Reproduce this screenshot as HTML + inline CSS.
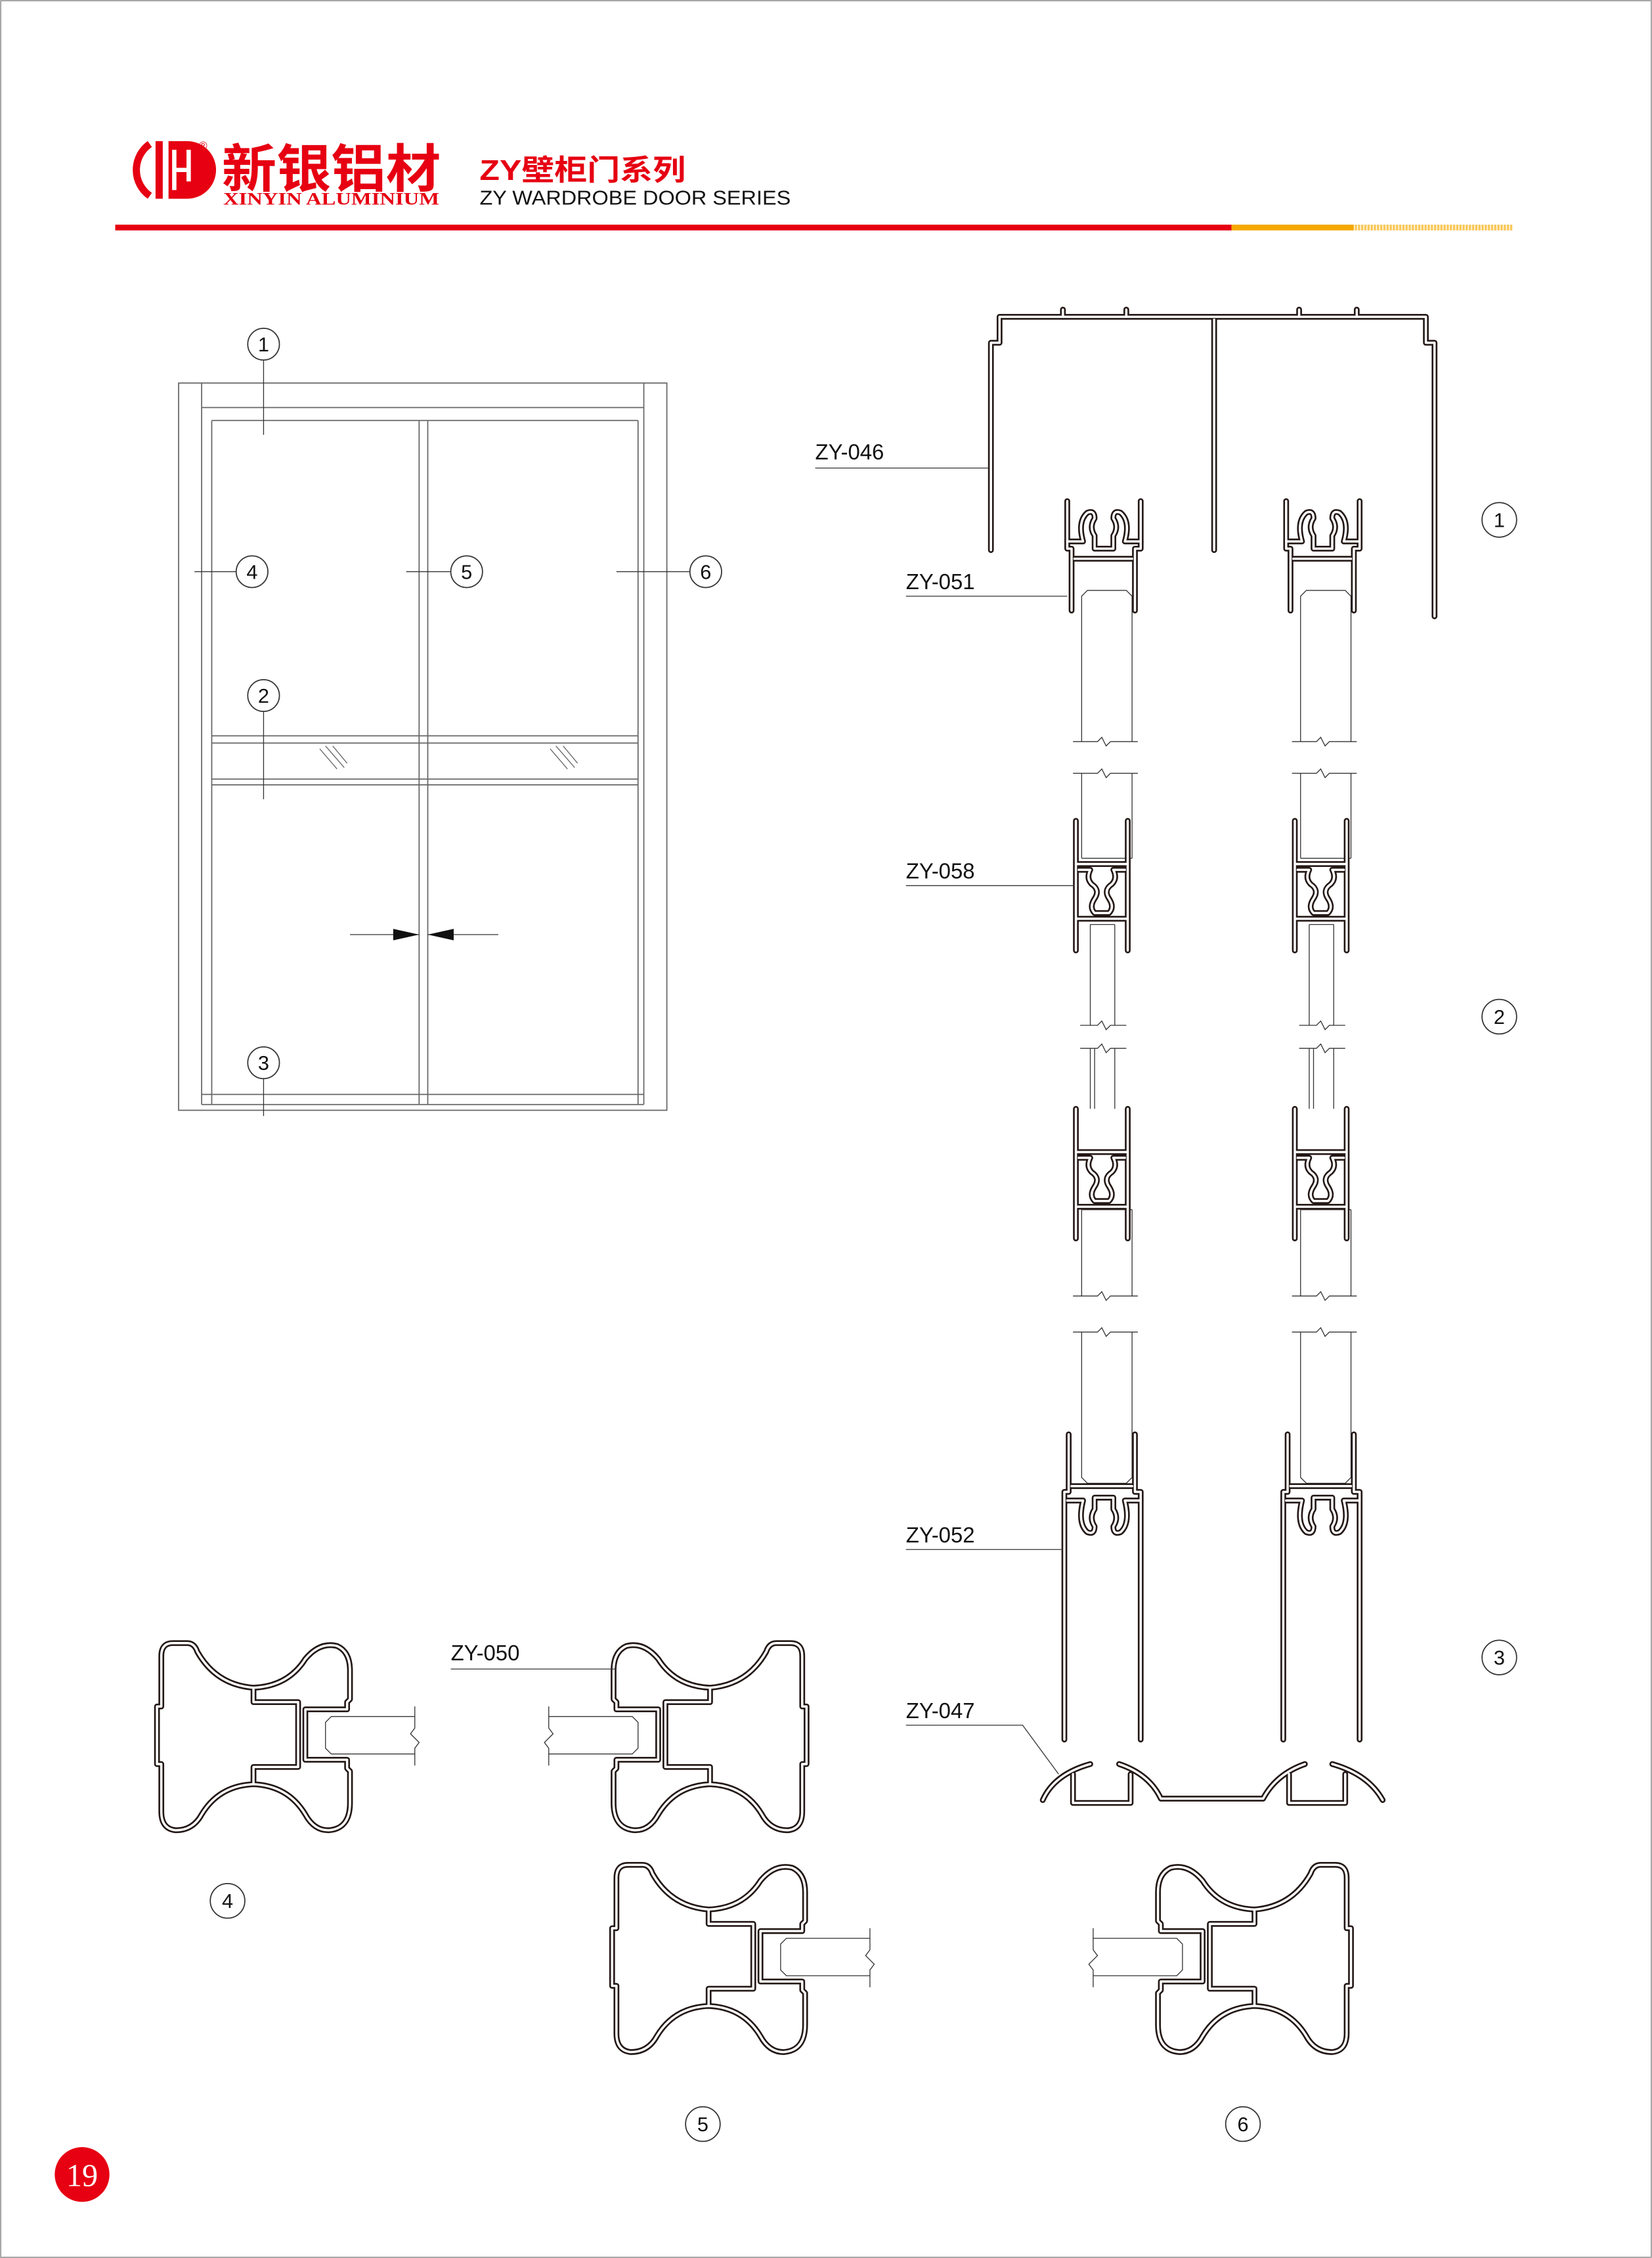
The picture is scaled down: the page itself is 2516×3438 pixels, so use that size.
<!DOCTYPE html>
<html><head><meta charset="utf-8"><style>
html,body{margin:0;padding:0;background:#fff}
svg{display:block}
text{font-family:"Liberation Sans","Noto Sans CJK SC",sans-serif}
text.serif{font-family:"Liberation Serif",serif}
</style></head><body>
<svg width="2516" height="3438" viewBox="0 0 1147 1568" preserveAspectRatio="none" xmlns="http://www.w3.org/2000/svg">
<defs>
<g id="p4">
<path d="M112,1150 Q112,1141 120,1141 L130,1141 Q135,1141 137,1147 Q150,1170 176,1172 Q200,1171 212,1152 Q222,1140 234,1143 Q243,1147 243,1160 L243,1180 L241,1182 L241,1187 L212,1187 L212,1222 L241,1222 L241,1228 L243,1230 L243,1252 Q243,1270 228,1271 Q218,1271 212,1260 Q200,1240 176,1239 Q152,1240 140,1260 Q134,1271 122,1271 Q112,1270 112,1258 L112,1225 L109,1225 L109,1185 L112,1185 Z"/>
<path d="M176,1172 L176,1182 L207,1182 L207,1227 L176,1227 L176,1239"/>
</g>
<g id="col">
<path d="M741,348 L741,381 L744,381 L744,424 M792,348 L792,381 L788,381 L788,424 M746,388 L786,388"/>
<path d="M741,376 L752,376 Q748,362 755,356 Q760,354 760,360 Q756,366 760,372 L760,381 L773,381 L773,372 Q777,366 773,360 Q773,354 778,356 Q785,362 781,376 L792,376"/>
<path d="M747,570 L747,660 M783,570 L783,660 M747,600 L783,600 M747,638 L783,638"/>
<path d="M749,604 L757,604 Q754,610 758,614 Q764,618 760,624 Q756,630 760,634 L770,634 Q774,630 770,624 Q766,618 772,614 Q776,610 773,604 L781,604"/>
<path d="M747,770 L747,860 M783,770 L783,860 M747,800 L783,800 M747,838 L783,838"/>
<path d="M749,804 L757,804 Q754,810 758,814 Q764,818 760,824 Q756,830 760,834 L770,834 Q774,830 770,824 Q766,818 772,814 Q776,810 773,804 L781,804"/>
<path d="M742,996 L742,1036 L739,1036 L739,1208 M788,996 L788,1036 L792,1036 L792,1208 M744,1032 L786,1032"/>
<path d="M741,1042 L752,1042 Q748,1058 755,1064 Q760,1066 760,1060 Q756,1054 760,1048 L760,1040 L773,1040 L773,1048 Q777,1054 773,1060 Q773,1066 778,1064 Q785,1058 781,1042 L792,1042"/>
</g>
<g id="glass" fill="none" stroke="#333" stroke-width="0.6">
<path d="M751,515 L751,414 L755,410 L782,410 L786,414 L786,515"/>
<path d="M745,515 L762,515 L765,512 L768,518 L771,515 L790,515"/>
<path d="M745,537 L762,537 L765,534 L768,540 L771,537 L790,537"/>
<path d="M751,537 L751,596 M786,537 L786,596 M751,596 L786,596"/>
<path d="M757,642 L757,712 M774,642 L774,712 M757,642 L774,642"/>
<path d="M750,712 L762,712 L765,709 L768,715 L771,712 L782,712"/>
<path d="M750,728 L762,728 L765,725 L768,731 L771,728 L782,728"/>
<path d="M757,728 L757,770 M774,728 L774,770 M760,728 L760,770"/>
<path d="M751,840 L786,840 M751,840 L751,900 M786,840 L786,900"/>
<path d="M745,900 L762,900 L765,897 L768,903 L771,900 L790,900"/>
<path d="M745,925 L762,925 L765,922 L768,928 L771,925 L790,925"/>
<path d="M751,925 L751,1026 L755,1030 L782,1030 L786,1026 L786,925"/>
</g>
<g id="g4" fill="none" stroke="#333" stroke-width="0.6">
<path d="M288,1185 L288,1192 L230,1192 L226,1196 L226,1214 L230,1218 L288,1218 L288,1226"/>
<path d="M288,1192 L288,1200 L285,1204 L291,1210 L288,1214 L288,1218"/>
</g>
<g id="trk">
<path d="M688,382 L688,238 L694,238 L694,220 L990,220 L990,238 L996,238 L996,428"/>
<path d="M843,222 L843,382"/>
<path d="M738,220 L738,215 M782,220 L782,215 M902,220 L902,215 M942,220 L942,215"/>
<path d="M724,1250 Q732,1232 757,1225 M745,1232 L745,1252 L785,1252 L785,1232 M777,1225 Q798,1232 806,1249 L877,1249 Q886,1232 906,1225 M895,1232 L895,1252 L934,1252 L934,1232 M925,1225 Q950,1232 960,1250"/>
</g>
</defs>

<rect x="0.5" y="0.5" width="1146" height="1567" fill="none" stroke="#999" stroke-width="0.8"/>

<g fill="none" stroke="#e60012" stroke-width="5">
<path d="M104,100 A22,22 0 0 0 104,136"/>
</g>
<rect x="108" y="98" width="5" height="40" fill="#e60012"/>
<path d="M117,98 L130,98 A20,20 0 0 1 130,138 L117,138 Z" fill="#e60012"/>
<path d="M121,104 L121,132 M121,118 L131,118 M131,104 L131,126" stroke="#fff" stroke-width="3" fill="none"/>
<text x="138" y="104" font-size="8" fill="#e60012">®</text>
<text x="154" y="130" font-size="36" font-weight="bold" fill="#e60012" textLength="152" lengthAdjust="spacingAndGlyphs">新银铝材</text>
<text class="serif" x="155" y="142" font-size="12" font-weight="bold" fill="#e60012" textLength="150" lengthAdjust="spacingAndGlyphs">XINYIN ALUMINIUM</text>
<text x="333" y="125" font-size="20" font-weight="bold" fill="#e60012" textLength="143" lengthAdjust="spacingAndGlyphs">ZY壁柜门系列</text>
<text x="333" y="142" font-size="14" fill="#111" textLength="216" lengthAdjust="spacingAndGlyphs">ZY WARDROBE DOOR SERIES</text>
<rect x="80" y="156" width="775" height="4" fill="#e60012"/>
<rect x="855" y="156" width="85" height="4" fill="#f5a800"/>
<rect x="940" y="156" width="110" height="4" fill="#f9c85a"/>
<path d="M940,158 L1050,158" stroke="#fff" stroke-width="4" stroke-dasharray="0.6 1.6"/>

<g fill="none" stroke="#666" stroke-width="0.8">
<rect x="124" y="266" width="339" height="505"/>
<line x1="140" y1="283" x2="447" y2="283"/>
<line x1="147" y1="292" x2="443" y2="292"/>
<line x1="140" y1="266" x2="140" y2="767"/>
<line x1="447" y1="266" x2="447" y2="767"/>
<line x1="147" y1="292" x2="147" y2="767"/>
<line x1="443" y1="292" x2="443" y2="767"/>
<line x1="291" y1="292" x2="291" y2="767"/>
<line x1="297" y1="292" x2="297" y2="767"/>
<line x1="147" y1="511" x2="443" y2="511"/>
<line x1="147" y1="516" x2="443" y2="516"/>
<line x1="147" y1="541" x2="443" y2="541"/>
<line x1="147" y1="545" x2="443" y2="545"/>
<line x1="140" y1="760" x2="447" y2="760"/>
<line x1="140" y1="767" x2="447" y2="767"/>
<path d="M222,520 L234,534 M226,518 L239,533 M231,518 L241,530 M382,520 L394,534 M386,518 L399,533 M391,518 L401,530" stroke-width="0.6"/>
<path d="M183,250 L183,302 M135,397 L164,397 M282,397 L313,397 M428,397 L479,397 M183,494 L183,555 M183,749 L183,775 M243,649 L291,649 M297,649 L346,649" stroke="#333" stroke-width="0.6"/>
</g>
<path d="M291,649 L273,645 L273,653 Z M297,649 L315,645 L315,653 Z" fill="#111"/>
<g fill="#fff" stroke="#333" stroke-width="0.8">
<circle cx="183" cy="239" r="11"/><circle cx="175" cy="397" r="11"/><circle cx="324" cy="397" r="11"/><circle cx="490" cy="397" r="11"/><circle cx="183" cy="483" r="11"/><circle cx="183" cy="738" r="11"/>
<circle cx="1041" cy="361" r="12"/><circle cx="1041" cy="706" r="12"/><circle cx="1041" cy="1151" r="12"/>
<circle cx="158" cy="1320" r="12"/><circle cx="488" cy="1475" r="12"/><circle cx="863" cy="1475" r="12"/>
</g>
<g font-size="14" fill="#111" text-anchor="middle">
<text x="183" y="244">1</text><text x="175" y="402">4</text><text x="324" y="402">5</text><text x="490" y="402">6</text><text x="183" y="488">2</text><text x="183" y="743">3</text>
<text x="1041" y="366">1</text><text x="1041" y="711">2</text><text x="1041" y="1156">3</text>
<text x="158" y="1325">4</text><text x="488" y="1480">5</text><text x="863" y="1480">6</text>
</g>

<use href="#glass"/>
<use href="#glass" transform="translate(152,0)"/>
<g fill="none" stroke-linecap="round" stroke-linejoin="round">
<g stroke="#231815" stroke-width="4">
<use href="#trk"/><use href="#col"/><use href="#col" transform="translate(152,0)"/>
<use href="#p4"/><use href="#p4" transform="translate(669,0) scale(-1,1)"/><use href="#p4" transform="translate(316,154)"/><use href="#p4" transform="translate(1047,154) scale(-1,1)"/>
</g>
<g stroke="#fff" stroke-width="1.6">
<use href="#trk"/><use href="#col"/><use href="#col" transform="translate(152,0)"/>
<use href="#p4"/><use href="#p4" transform="translate(669,0) scale(-1,1)"/><use href="#p4" transform="translate(316,154)"/><use href="#p4" transform="translate(1047,154) scale(-1,1)"/>
</g>
</g>
<use href="#g4"/>
<use href="#g4" transform="translate(669,0) scale(-1,1)"/>
<use href="#g4" transform="translate(316,154)"/>
<use href="#g4" transform="translate(1047,154) scale(-1,1)"/>

<g fill="none" stroke="#333" stroke-width="0.6">
<path d="M566,325 L686,325 M629,414 L741,414 M629,615 L746,615 M629,1076 L738,1076 M629,1198 L710,1198 L735,1232 M313,1159 L428,1159"/>
</g>
<g font-size="15" fill="#111">
<text x="566" y="319">ZY-046</text>
<text x="629" y="409">ZY-051</text>
<text x="629" y="610">ZY-058</text>
<text x="629" y="1071">ZY-052</text>
<text x="629" y="1193">ZY-047</text>
<text x="313" y="1153">ZY-050</text>
</g>

<circle cx="57" cy="1510" r="19" fill="#e60012"/>
<text class="serif" x="57" y="1518" font-size="22" fill="#fff" text-anchor="middle">19</text>
</svg>
</body></html>
